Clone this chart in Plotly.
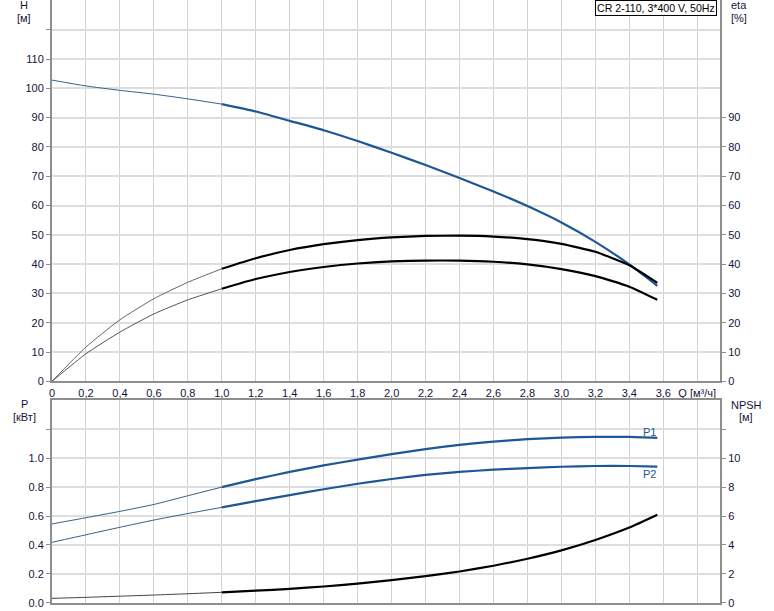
import plotly.graph_objects as go

# ---- data ----
q = [0, 0.2, 0.4, 0.6, 0.8, 1.0, 1.2, 1.4, 1.6, 1.8, 2.0, 2.2, 2.4, 2.6, 2.8, 3.0, 3.2, 3.4, 3.565]
head = [102.8, 100.8, 99.3, 98.0, 96.4, 94.6, 92.1, 88.9, 85.7, 82.0, 78.0, 73.8, 69.4, 64.8, 59.8, 54.2, 47.6, 39.9, 32.6]
eta_pump = [0, 11.7, 21.0, 28.2, 33.8, 38.4, 42.0, 44.8, 46.8, 48.2, 49.1, 49.6, 49.7, 49.4, 48.5, 46.9, 44.2, 39.6, 33.6]
eta_total = [0, 9.4, 16.8, 23.0, 27.8, 31.6, 34.9, 37.3, 39.0, 40.2, 40.9, 41.2, 41.2, 40.8, 39.9, 38.3, 35.9, 32.3, 27.8]
p1 = [0.545, 0.588, 0.632, 0.68, 0.74, 0.80, 0.855, 0.905, 0.95, 0.99, 1.028, 1.063, 1.092, 1.115, 1.132, 1.143, 1.148, 1.147, 1.14]
p2 = [0.418, 0.47, 0.522, 0.572, 0.617, 0.66, 0.703, 0.745, 0.785, 0.823, 0.856, 0.884, 0.905, 0.921, 0.932, 0.941, 0.946, 0.946, 0.942]
npsh = [0.30, 0.37, 0.45, 0.53, 0.62, 0.72, 0.83, 0.96, 1.12, 1.32, 1.56, 1.84, 2.16, 2.56, 3.04, 3.62, 4.34, 5.2, 6.09]
q_split = 1.0

x_ticks = [0, 0.2, 0.4, 0.6, 0.8, 1.0, 1.2, 1.4, 1.6, 1.8, 2.0, 2.2, 2.4, 2.6, 2.8, 3.0, 3.2, 3.4, 3.6, 3.8]
x_ticktext = ["0", "0,2", "0,4", "0,6", "0,8", "1,0", "1,2", "1,4", "1,6", "1,8", "2,0",
              "2,2", "2,4", "2,6", "2,8", "3,0", "3,2", "3,4", "3,6", "Q [м³/ч]"]
h_ticks = [0, 10, 20, 30, 40, 50, 60, 70, 80, 90, 100, 110, 120]
h_ticktext = ["0", "10", "20", "30", "40", "50", "60", "70", "80", "90", "100", "110", ""]
eta_ticks = [0, 10, 20, 30, 40, 50, 60, 70, 80, 90]
p_ticks = [0, 0.2, 0.4, 0.6, 0.8, 1.0, 1.2]
p_ticktext = ["0.0", "0.2", "0.4", "0.6", "0.8", "1.0", ""]
npsh_ticks = [0, 2, 4, 6, 8, 10, 12]
npsh_ticktext = ["0", "2", "4", "6", "8", "10", ""]
title_text = "CR 2-110, 3*400 V, 50Hz"

BLUE = "#1d5796"
BLACK = "#000000"
GRID_V = "#d2d2d2"
GRID_H = "#dedede"
AXIS = "#8e8e8e"
TXT = "#14143a"
FONT = "Liberation Sans, Arial, sans-serif"

W, H = 774, 611


def split(xs, ys):
    thin_x = [a for a in xs if a <= q_split]
    thin_y = [b for a, b in zip(xs, ys) if a <= q_split]
    thick_x = [a for a in xs if a >= q_split]
    thick_y = [b for a, b in zip(xs, ys) if a >= q_split]
    return thin_x, thin_y, thick_x, thick_y


fig = go.Figure()


def add_curve(ys, color, xa, ya, thin_color=None):
    tx, ty, kx, ky = split(q, ys)
    fig.add_trace(go.Scatter(x=tx, y=ty, mode="lines", xaxis=xa, yaxis=ya,
                             line=dict(color=thin_color or color, width=1, shape="spline", smoothing=0.5),
                             hoverinfo="skip", showlegend=False))
    fig.add_trace(go.Scatter(x=kx, y=ky, mode="lines", xaxis=xa, yaxis=ya,
                             line=dict(color=color, width=2.2, shape="spline", smoothing=0.5),
                             hoverinfo="skip", showlegend=False))


add_curve(head, BLUE, "x", "y", thin_color="#3a5f8a")
add_curve(eta_pump, BLACK, "x", "y2", thin_color="#666666")
add_curve(eta_total, BLACK, "x", "y2", thin_color="#555555")
add_curve(p1, BLUE, "x2", "y3", thin_color="#3a5f8a")
add_curve(p2, BLUE, "x2", "y3", thin_color="#3a5f8a")
add_curve(npsh, BLACK, "x2", "y4", thin_color="#444444")

# pixel geometry
x0, x1 = 52, 720
top_bottom_px = 381.3
bot_top_px, bot_bottom_px = 400, 602.7

dom_x = [x0 / W, x1 / W]
dom_top = [(H - top_bottom_px) / H, 1.0]
dom_bot = [(H - bot_bottom_px) / H, (H - bot_top_px) / H]

xr = [0, (x1 - x0) / 169.8]
hr = [0, top_bottom_px / 2.93]
pr = [0, (bot_bottom_px - bot_top_px) / 144.5]
nr = [0, pr[1] * 10]

tickfont = dict(family=FONT, size=11, color=TXT)
common_y = dict(ticks="outside", ticklen=4, tickwidth=1, tickcolor=AXIS, showline=True,
                linecolor=AXIS, linewidth=2, tickfont=tickfont, zeroline=False,
                fixedrange=True, automargin=False)

fig.update_layout(
    width=W, height=H, margin=dict(l=0, r=0, t=0, b=0, autoexpand=False),
    paper_bgcolor="white", plot_bgcolor="white",
    font=dict(family=FONT, size=11, color=TXT),
    showlegend=False,
    xaxis=dict(domain=dom_x, range=xr, anchor="y", tickmode="array", tickvals=x_ticks,
               ticktext=x_ticktext, showgrid=True, gridcolor=GRID_V, gridwidth=1,
               showline=True, linecolor=AXIS, linewidth=2, ticks="", tickfont=tickfont,
               zeroline=False, fixedrange=True, automargin=False),
    yaxis=dict(domain=dom_top, range=hr, anchor="x", tickmode="array", tickvals=h_ticks,
               ticktext=h_ticktext, showgrid=True, gridcolor=GRID_H, gridwidth=2, **common_y),
    yaxis2=dict(range=hr, overlaying="y", side="right", anchor="x", tickmode="array",
                tickvals=eta_ticks, showgrid=False, **common_y),
    xaxis2=dict(domain=dom_x, range=xr, anchor="y3", tickmode="array", tickvals=x_ticks,
                showticklabels=False, showgrid=True, gridcolor=GRID_V, gridwidth=1,
                showline=True, linecolor=AXIS, linewidth=2, mirror=True, ticks="",
                zeroline=False, fixedrange=True, automargin=False),
    yaxis3=dict(domain=dom_bot, range=pr, anchor="x2", tickmode="array", tickvals=p_ticks,
                ticktext=p_ticktext, showgrid=True, gridcolor=GRID_H, gridwidth=2, **common_y),
    yaxis4=dict(range=nr, overlaying="y3", side="right", anchor="x2", tickmode="array",
                tickvals=npsh_ticks, ticktext=npsh_ticktext, showgrid=False, **common_y),
)


def px_x(px):
    return px / W


def px_y(py):
    return (H - py) / H


annos = [
    dict(text="H", x=px_x(24), y=px_y(5)),
    dict(text="[м]", x=px_x(24), y=px_y(18)),
    dict(text="eta", x=px_x(739), y=px_y(5)),
    dict(text="[%]", x=px_x(739), y=px_y(18)),
    dict(text="P", x=px_x(25), y=px_y(404)),
    dict(text="[кВт]", x=px_x(25), y=px_y(417)),
    dict(text="NPSH", x=px_x(746), y=px_y(405)),
    dict(text="[м]", x=px_x(746), y=px_y(417)),
]
for a in annos:
    fig.add_annotation(xref="paper", yref="paper", x=a["x"], y=a["y"], text=a["text"],
                       showarrow=False, xanchor="center", yanchor="middle",
                       font=dict(family=FONT, size=11, color=TXT))

fig.add_annotation(xref="paper", yref="paper", x=px_x(717), y=1.0, text=title_text,
                   showarrow=False, xanchor="right", yanchor="top",
                   bgcolor="white", bordercolor="#000000", borderwidth=1, borderpad=1,
                   font=dict(family=FONT, size=10.6, color="#000000"))

fig.add_annotation(xref="x2", yref="y3", x=3.52, y=(bot_bottom_px - 431.7) / 144.5, text="P1",
                   showarrow=False, xanchor="center", yanchor="middle",
                   font=dict(family=FONT, size=11, color=BLUE))
fig.add_annotation(xref="x2", yref="y3", x=3.52, y=(bot_bottom_px - 474) / 144.5, text="P2",
                   showarrow=False, xanchor="center", yanchor="middle",
                   font=dict(family=FONT, size=11, color=BLUE))

fig.write_html(
    "out.html",
    config={"displayModeBar": False, "staticPlot": True},
    post_script="document.body.style.margin='0';document.body.style.padding='0';"
                "document.documentElement.style.overflow='hidden';",
)
